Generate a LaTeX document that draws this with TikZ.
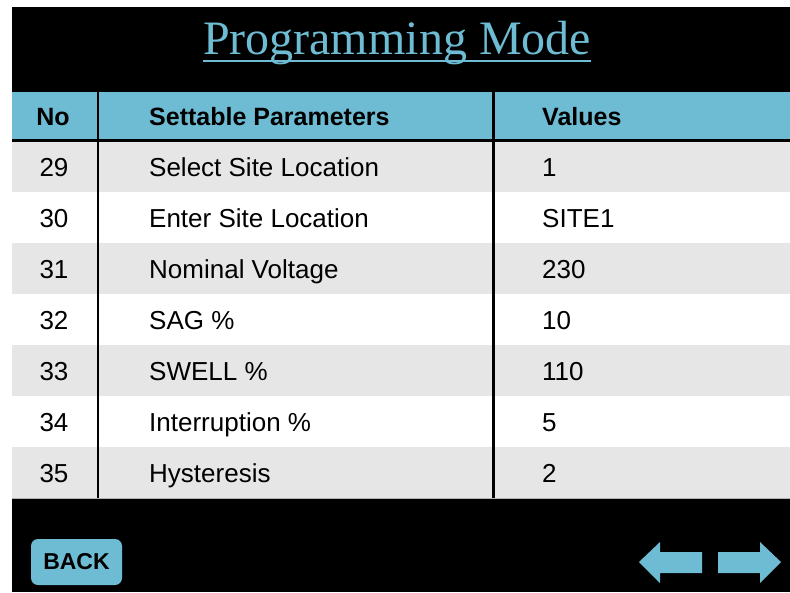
\documentclass[tikz,border=0pt]{standalone}
\usepackage{fontspec}
\setmainfont{Liberation Sans}
\newfontfamily\titlefont{Liberation Serif}
\usetikzlibrary{calc}
\definecolor{panelblue}{HTML}{6EBCD3}
\definecolor{rowgray}{HTML}{E6E6E6}
\tikzset{
  cell/.style={inner sep=0pt, font=\fontsize{26}{26}\selectfont, text=black},
  headcell/.style={inner sep=0pt, font=\fontsize{25}{25}\selectfont\bfseries, text=black},
  numcell/.style={cell, anchor=base},
  parcell/.style={cell, anchor=base west},
  valcell/.style={cell, anchor=base west},
  rule/.style={draw=black, line width=2.6pt},
  navarrow/.style={fill=panelblue, draw=none},
}
\begin{document}
\begin{tikzpicture}[x=1pt, y=-1pt]
\useasboundingbox (0,0) rectangle (790,592);
\fill[white] (0,0) rectangle (790,592);
\fill[black] (12,7) rectangle (790,592);

% title
\node[anchor=base, inner sep=0pt, text=panelblue,
      font=\titlefont\fontsize{48}{48}\selectfont] (title) at (397,54) {Programming Mode};
\draw[panelblue, line width=2pt] ($(title.base west)+(0,7)$) -- ($(title.base east)+(0,7)$);

% header band
\fill[panelblue] (12,92) rectangle (790,139);

% body rows, alternating gray and white
\foreach \i in {0,...,6} {
  \pgfmathsetmacro{\top}{141+51*\i}
  \pgfmathsetmacro{\bot}{192+51*\i}
  \ifodd\i
    \fill[white] (12,\top) rectangle (790,\bot);
  \else
    \fill[rowgray] (12,\top) rectangle (790,\bot);
  \fi
}
\fill[black] (12,139) rectangle (790,142);
\draw[gray!60, line width=1pt] (12,498) -- (790,498);

% column rules
\draw[rule] (98,92) -- (98,498);
\draw[rule] (493.5,92) -- (493.5,498);

% header texts
\node[headcell, anchor=base] (hno) at (53,125) {No};
\node[headcell, anchor=base west] (hpar) at (149,125) {Settable Parameters};
\node[headcell, anchor=base west] (hval) at (542,125) {Values};

% rows
\foreach \n/\p/\v [count=\k from 0] in {
  29/Select Site Location/1,
  30/Enter Site Location/SITE1,
  31/Nominal Voltage/230,
  32/SAG \%/10,
  33/SWELL \%/110,
  34/Interruption \%/5,
  35/Hysteresis/2} {
  \pgfmathsetmacro{\yy}{176+51*\k}
  \node[numcell] (no\k) at (54,\yy) {\n};
  \node[parcell] (par\k) at (149,\yy) {\p};
  \node[valcell] (val\k) at (542,\yy) {\v};
}

% back button
\node[fill=panelblue, rounded corners=7pt, minimum width=91pt, minimum height=46pt,
      inner sep=0pt, font=\fontsize{23}{23}\selectfont\bfseries, text=black]
      (back) at (76.5,562) {BACK};

% navigation arrows
\fill[navarrow] (639,562) -- (660,542) -- (660,552) -- (702,552) -- (702,573)
  -- (660,573) -- (660,583) -- cycle;
\fill[navarrow] (781,562) -- (760,542) -- (760,552) -- (718,552) -- (718,573)
  -- (760,573) -- (760,583) -- cycle;
\end{tikzpicture}
\end{document}
